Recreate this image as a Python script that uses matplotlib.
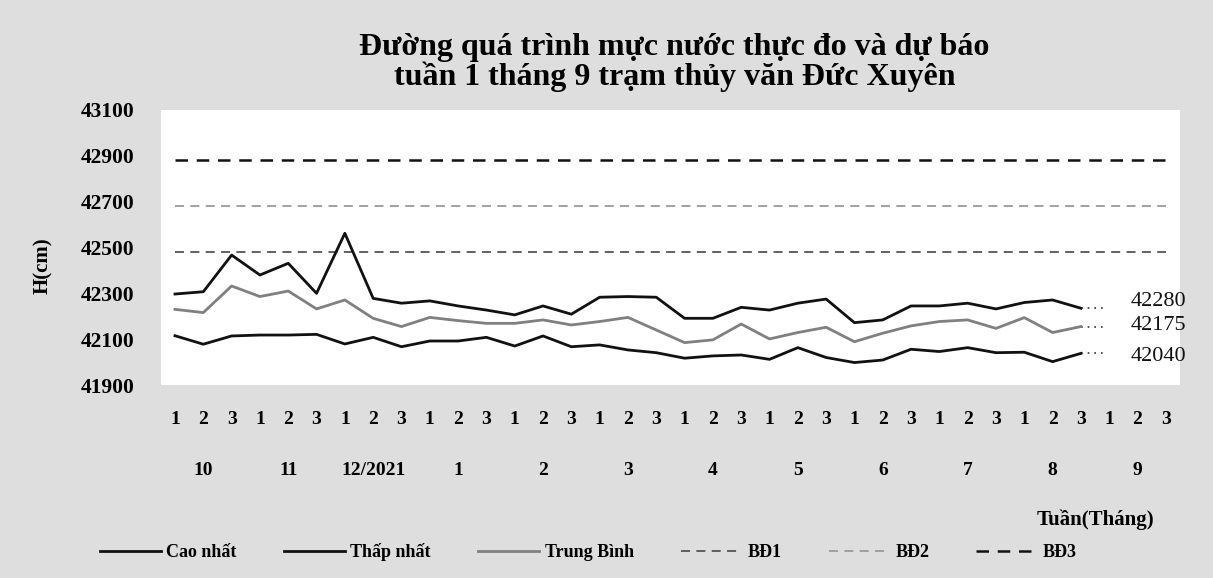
import matplotlib
matplotlib.use("Agg")
import matplotlib.pyplot as plt
from matplotlib.transforms import blended_transform_factory

# ---- data ----
decades = ["1", "2", "3"] * 12
months = ["10", "11", "12/2021", "1", "2", "3", "4", "5", "6", "7", "8", "9"]

cao_nhat = [42297, 42307, 42467, 42380, 42431, 42300, 42562, 42278, 42257, 42267,
            42245, 42227, 42206, 42245, 42209, 42283, 42286, 42283, 42191, 42191,
            42239, 42227, 42257, 42275, 42172, 42184, 42245, 42245, 42257, 42232,
            42260, 42271, 42235]
thap_nhat = [42115, 42078, 42114, 42118, 42118, 42121, 42079, 42108, 42067, 42092,
             42092, 42108, 42070, 42114, 42067, 42075, 42053, 42041, 42017, 42027,
             42031, 42012, 42063, 42020, 41998, 42009, 42056, 42046, 42063, 42041,
             42043, 42002, 42038]
trung_binh = [42230, 42216, 42332, 42286, 42310, 42232, 42271, 42191, 42155, 42195,
              42181, 42169, 42169, 42184, 42162, 42177, 42195, 42140, 42085, 42097,
              42166, 42101, 42129, 42152, 42089, 42126, 42158, 42177, 42184, 42147,
              42194, 42129, 42155]
forecast_labels = ["42280", "42175", "42040"]
bd1, bd2, bd3 = 42480, 42680, 42880
yticks = [41900, 42100, 42300, 42500, 42700, 42900, 43100]

title = "Đường quá trình mực nước thực đo và dự báo\ntuần 1 tháng 9 trạm thủy văn Đức Xuyên"

# ---- style ----
SERIF = ["Liberation Serif", "DejaVu Serif"]
plt.rcParams["font.family"] = SERIF

fig = plt.figure(figsize=(12.13, 5.78), dpi=100, facecolor="#dedede")
ax = fig.add_axes([0.1326, 0.3339, 0.8402, 0.4758])
ax.set_facecolor("white")
for s in ax.spines.values():
    s.set_visible(False)

n = len(decades)
x_all = list(range(n))
x_obs = list(range(len(cao_nhat)))

l1, = ax.plot(x_obs, cao_nhat, color="#111111", lw=2.0, label="Cao nhất", zorder=4)
l2, = ax.plot(x_obs, thap_nhat, color="#111111", lw=2.0, label="Thấp nhất", zorder=4)
l3, = ax.plot(x_obs, trung_binh, color="#808080", lw=2.0, label="Trung Bình", zorder=4)

# dotted continuation toward forecast + forecast labels
last = len(cao_nhat) - 1
for series, lab in zip([cao_nhat, trung_binh, thap_nhat], forecast_labels):
    ax.plot([last, last + 0.8], [series[-1], series[-1]], color="#333333",
            lw=1.2, ls=(0, (1, 3)), zorder=3)
    ax.text(last + 1.75, float(lab) - 15, lab, fontsize=16, color="#111111",
            va="center", ha="left")

l4, = ax.plot(x_all, [bd1] * n, color="#555555", lw=1.3, ls=(0, (5, 3.5)), label="BĐ1")
l5, = ax.plot(x_all, [bd2] * n, color="#9a9a9a", lw=1.3, ls=(0, (5, 3.5)), label="BĐ2")
l6, = ax.plot(x_all, [bd3] * n, color="#111111", lw=1.8, ls=(0, (5, 3.5)), label="BĐ3")

ax.set_xlim(-0.5, n - 0.5)
ax.set_ylim(41900, 43100)
ax.set_yticks(yticks)
ax.set_yticklabels([str(v) for v in yticks], fontsize=15.5, fontweight="bold")
ax.set_xticks(x_all)
ax.set_xticklabels(decades, fontsize=14, fontweight="bold")
ax.tick_params(axis="both", length=0)
ax.tick_params(axis="y", pad=19)
ax.tick_params(axis="x", pad=19)

trans = blended_transform_factory(ax.transData, ax.transAxes)
for i, m in enumerate(months):
    ax.text(3 * i + 1, -0.31, m, transform=trans, ha="center", va="center",
            fontsize=14, fontweight="bold")

ax.text(32.5, -0.49, "Tuần(Tháng)", transform=trans, ha="center", va="center",
        fontsize=15, fontweight="bold")

ax.set_ylabel("H(cm)", fontsize=15, fontweight="bold")
ax.yaxis.set_label_coords(-0.106, 0.433)

fig.text(0.556, 0.892, title, ha="center", va="center", fontsize=23,
         fontweight="bold", linespacing=0.98)

fig.legend(handles=[l1, l2, l3, l4, l5, l6], loc="center", ncol=6,
           bbox_to_anchor=(0.485, 0.045), frameon=False,
           prop={"family": SERIF, "weight": "bold", "size": 13},
           handlelength=3.4, columnspacing=2.6, handletextpad=0.3)

fig.savefig("out.png", dpi=100, facecolor=fig.get_facecolor())
